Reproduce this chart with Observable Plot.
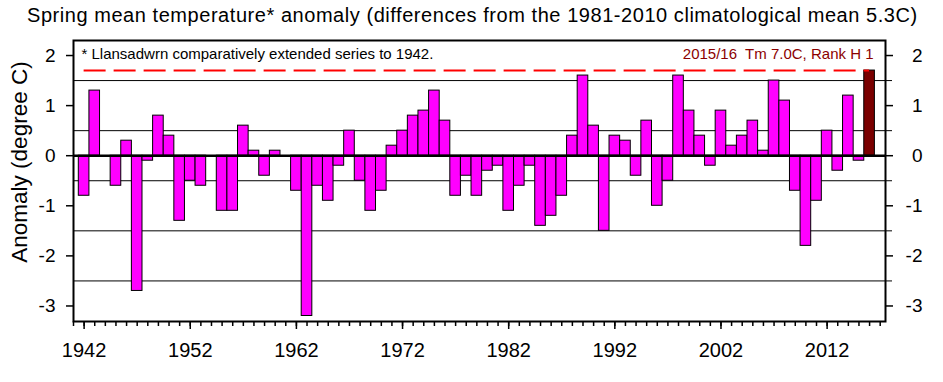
<!DOCTYPE html>
<html>
<head>
<meta charset="utf-8">
<script src="https://cdn.jsdelivr.net/npm/d3@7"></script>
<script src="https://cdn.jsdelivr.net/npm/@observablehq/plot@0.6"></script>
<style>
  html, body { margin: 0; padding: 0; background: white; }
  #title { height: 30px; width: 943px; font-family: "Liberation Sans", Arial, sans-serif; font-size: 20px; letter-spacing: 0.55px; line-height: 30px; padding-left: 27px; box-sizing: border-box; text-align: left; color: black; white-space: nowrap; }
  #chart svg { display: block; }
</style>
</head>
<body>
<div id="title">Spring mean temperature* anomaly (differences from the 1981-2010 climatological mean 5.3C)</div>
<div id="chart"></div>
<script>
// Spring mean temperature anomaly (degC) for each year from 1942 to 2016
const firstYear = 1942;
const anomalies = [
  -0.8, 1.3, 0, -0.6, 0.3, -2.7, -0.1, 0.8, 0.4, -1.3,   // 1942-1951
  -0.5, -0.6, 0, -1.1, -1.1, 0.6, 0.1, -0.4, 0.1, 0,     // 1952-1961
  -0.7, -3.2, -0.6, -0.9, -0.2, 0.5, -0.5, -1.1, -0.7, 0.2, // 1962-1971
  0.5, 0.8, 0.9, 1.3, 0.7, -0.8, -0.4, -0.8, -0.3, -0.2, // 1972-1981
  -1.1, -0.6, -0.2, -1.4, -1.2, -0.8, 0.4, 1.6, 0.6, -1.5, // 1982-1991
  0.4, 0.3, -0.4, 0.7, -1.0, -0.5, 1.6, 0.9, 0.4, -0.2,  // 1992-2001
  0.9, 0.2, 0.4, 0.7, 0.1, 1.5, 1.1, -0.7, -1.8, -0.9,   // 2002-2011
  0.5, -0.3, 1.2, -0.1, 1.7                              // 2012-2016
];
const years = anomalies.map((_, i) => firstYear + i);
const xTickLabels = [1942, 1952, 1962, 1972, 1982, 1992, 2002, 2012];
const xMinorTicks = [1941, ...years, 2017];
const yTickLabels = [-3, -2, -1, 0, 1, 2];
const yGridLines = [-2.5, -1.5, -0.5, 0.5, 1.5];
const yLabel = "Anomaly (degree C)";
const noteText = "* Llansadwrn comparatively extended series to 1942.";
const recordText = "2015/16  Tm 7.0C, Rank H 1";

const data = years.map((year, i) => ({year, value: anomalies[i], latest: i === years.length - 1}));
const latest = data[data.length - 1];

const chart = Plot.plot({
  width: 943,
  height: 352,
  marginTop: 10,
  marginBottom: 61,
  marginLeft: 73,
  marginRight: 58,
  style: {fontFamily: "'Liberation Sans', Arial, sans-serif", background: "white", color: "black"},
  x: {domain: [1941, 2017.5], axis: null},
  y: {domain: [-3.31, 2.3], axis: null},
  marks: [
    Plot.gridY(yGridLines, {stroke: "black", strokeOpacity: 1, strokeWidth: 1}),
    Plot.axisY(yGridLines, {anchor: "right", label: null, tickSize: 6, tickFormat: () => "", strokeWidth: 1}),
    Plot.axisY(yTickLabels, {anchor: "left", label: null, tickSize: 7, tickPadding: 11, fontSize: 19, tickFormat: d => String(d), strokeWidth: 1.5}),
    Plot.axisY(yTickLabels, {anchor: "right", label: null, tickSize: 7, tickPadding: 30, textAnchor: "end", fontSize: 19, tickFormat: d => String(d), strokeWidth: 1.5}),
    Plot.axisX(xMinorTicks, {anchor: "bottom", label: null, tickSize: 5, tickFormat: () => "", strokeWidth: 1.5}),
    Plot.axisX(xTickLabels, {anchor: "bottom", label: null, tickSize: 8, tickPadding: 13, fontSize: 20, tickFormat: d => String(d), strokeWidth: 1.5}),
    Plot.rectY(data.filter(d => d.value !== 0), {
      x1: d => d.year - 0.5,
      x2: d => d.year + 0.5,
      y: "value",
      fill: d => d.latest ? "#7a0000" : "#ff00ff",
      stroke: "black",
      strokeWidth: 1
    }),
    Plot.ruleY([0], {stroke: "black", strokeWidth: 2.5}),
    Plot.ruleY([latest.value], {x1: firstYear, x2: latest.year, stroke: "#ff0000", strokeWidth: 2, strokeDasharray: "22,8"}),
    Plot.text([noteText], {frameAnchor: "top-left", dx: 8, dy: 8, fontSize: 15, fill: "black"}),
    Plot.text([recordText], {frameAnchor: "top-right", dx: -12, dy: 8, fontSize: 15, fill: "#8b0000"}),
    Plot.frame({stroke: "black", strokeWidth: 2}),
    Plot.text([yLabel], {frameAnchor: "left", textAnchor: "middle", rotate: -90, dx: -54, dy: -19, fontSize: 22.5, fill: "black"})
  ]
});
document.getElementById("chart").appendChild(chart);
</script>
</body>
</html>
